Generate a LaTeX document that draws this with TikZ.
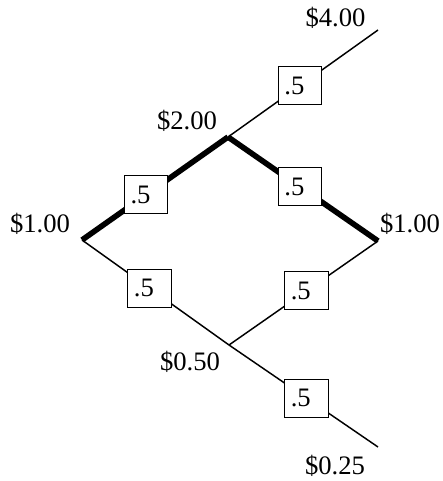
\documentclass[tikz,border=0pt]{standalone}
\usepackage{fontspec}
\setmainfont{Liberation Serif}
\begin{document}
\begin{tikzpicture}[x=0.75pt,y=-0.75pt,
  edge/.style={line width=1.1pt},
  heavy/.style={line width=4.2pt},
  prob/.style={draw,fill=white,line width=0.8pt,inner xsep=4.5pt,inner ysep=0pt,
    text width=23.5pt,align=left,minimum height=28.5pt,
    font=\fontsize{20}{23}\selectfont},
  val/.style={inner sep=0pt,font=\fontsize{20}{23}\selectfont}]
\useasboundingbox (0,0) rectangle (442,481);
\coordinate (A) at (82,240);
\coordinate (B) at (228,137);
\coordinate (T) at (378,30);
\coordinate (R) at (378,241);
\coordinate (D) at (229,345);
\coordinate (E) at (378,447);
\draw[heavy] (A) -- node[prob,pos=0.44] (p1) {.5} (B);
\draw[edge] (B) -- node[prob,pos=0.48] (p2) {.5} (T);
\draw[heavy] (B) -- node[prob,pos=0.48] (p3) {.5} (R);
\draw[edge] (A) -- node[prob,pos=0.46] (p4) {.5} (D);
\draw[edge] (D) -- node[prob,pos=0.52] (p5) {.5} (R);
\draw[edge] (D) -- node[prob,pos=0.52] (p6) {.5} (E);
\node[val] (lT) at (335.5,18) {\$4.00};
\node[val] (lB) at (187,121) {\$2.00};
\node[val] (lA) at (40,224) {\$1.00};
\node[val] (lR) at (410,224) {\$1.00};
\node[val] (lD) at (190,362) {\$0.50};
\node[val] (lE) at (335,466) {\$0.25};
\end{tikzpicture}
\end{document}
